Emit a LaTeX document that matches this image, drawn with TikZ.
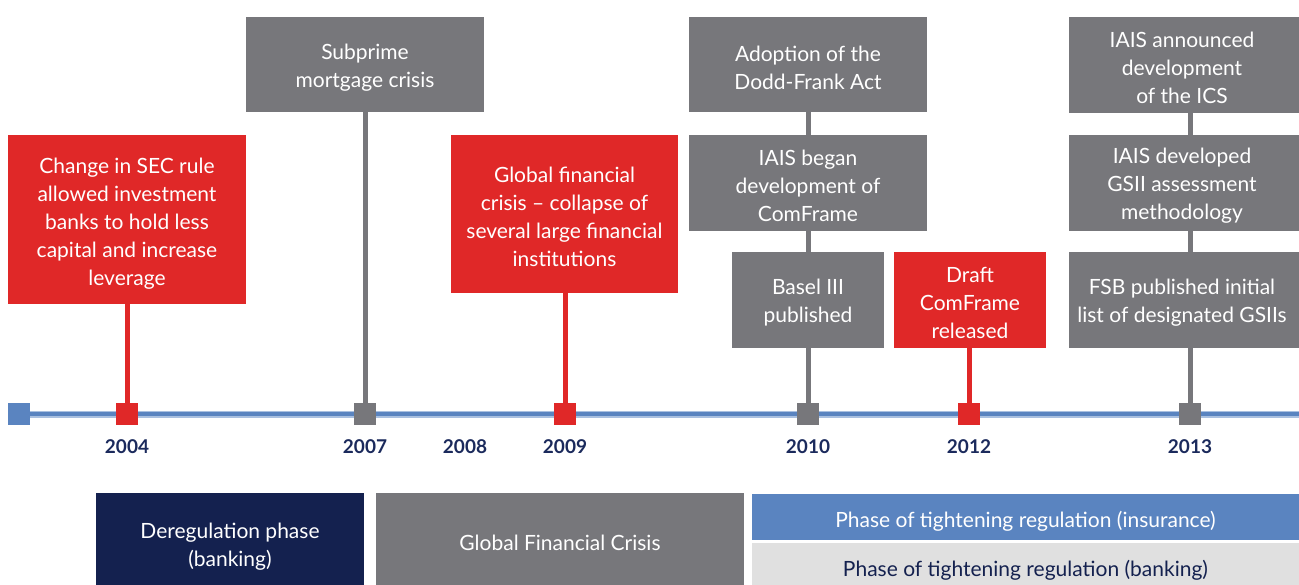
\documentclass[tikz,border=0pt]{standalone}
\usepackage{fontspec}
\setmainfont{Lato}
\definecolor{cred}{HTML}{E02828}
\definecolor{cgrey}{HTML}{77777B}
\definecolor{cnavy}{HTML}{14214F}
\definecolor{cblue}{HTML}{5A84C0}
\definecolor{clblue}{HTML}{A9C0E0}
\definecolor{clgrey}{HTML}{E0E0E0}
\definecolor{cyear}{HTML}{1B2A5C}
\begin{document}
\begin{tikzpicture}[x=1pt,y=-1pt,
  lbl/.style={inner sep=0pt, align=center, text=white,
    font=\fontsize{21}{28}\selectfont, yshift=-3pt},
  box/.style={inner sep=0pt},
  redbox/.style={box, fill=cred},
  greybox/.style={box, fill=cgrey},
  marker/.style={minimum size=22pt, inner sep=0pt},
  redmark/.style={marker, fill=cred},
  greymark/.style={marker, fill=cgrey},
  stem/.style={line width=5pt},
  year/.style={font=\fontsize{19}{22}\selectfont\bfseries, text=cyear},
  phase/.style={inner sep=0pt}
]
\useasboundingbox (0,0) rectangle (1299,585);

% timeline
\node[marker, fill=cblue] (start) at (19,414) {};
\coordinate (end) at (1299,414);
\draw[line width=7pt, clblue] (start.center) -- (end);
\draw[line width=4.5pt, cblue] (start.center) -- (end);
\node[marker, fill=cblue] at (19,414) {};

% markers
\node[redmark]  (m2004) at (127,414) {};
\node[greymark] (m2007) at (365,414) {};
\node[redmark]  (m2009) at (565,414) {};
\node[greymark] (m2010) at (808,414) {};
\node[redmark]  (m2012) at (969,414) {};
\node[greymark] (m2013) at (1190,414) {};

% years
\node[year] (y2004) at (127,447) {2004};
\node[year] (y2007) at (365,447) {2007};
\node[year] (y2008) at (465,447) {2008};
\node[year] (y2009) at (565,447) {2009};
\node[year] (y2010) at (808,447) {2010};
\node[year] (y2012) at (969,447) {2012};
\node[year] (y2013) at (1190,447) {2013};

% event boxes
\node[redbox, minimum width=238pt, minimum height=169pt,
  label={[lbl, yshift=-1.5pt]center:{Change in SEC rule\\allowed investment\\banks to hold less\\capital and increase\\leverage}}] (sec) at (127,219.5) {};
\node[greybox, minimum width=238pt, minimum height=95pt,
  label={[lbl]center:{Subprime\\mortgage crisis}}] (sub) at (365,64.5) {};
\node[redbox, minimum width=227pt, minimum height=158pt,
  label={[lbl]center:{Global financial\\crisis -- collapse of\\several large financial\\institutions}}] (gfc) at (564.5,214) {};
\node[greybox, minimum width=238pt, minimum height=95pt,
  label={[lbl]center:{Adoption of the\\Dodd-Frank Act}}] (dodd) at (808,64.5) {};
\node[greybox, minimum width=238pt, minimum height=96pt,
  label={[lbl]center:{IAIS began\\development of\\ComFrame}}] (began) at (808,183) {};
\node[greybox, minimum width=152pt, minimum height=96pt,
  label={[lbl]center:{Basel III\\published}}] (basel) at (808,300) {};
\node[redbox, minimum width=152pt, minimum height=96pt,
  label={[lbl]center:{Draft\\ComFrame\\released}}] (draft) at (970,300) {};
\node[greybox, minimum width=230pt, minimum height=96pt,
  label={[lbl, xshift=-2pt]center:{IAIS announced\\development\\of the ICS}}] (ics) at (1184,65) {};
\node[greybox, minimum width=230pt, minimum height=96pt,
  label={[lbl, xshift=-2pt]center:{IAIS developed\\GSII assessment\\methodology}}] (gsii) at (1184,183) {};
\node[greybox, minimum width=230pt, minimum height=96pt,
  label={[lbl, xshift=-2pt]center:{FSB published initial\\list of designated GSIIs}}] (fsb) at (1184,300) {};

% stems
\draw[stem, cred] (sec.south) -- (m2004.north);
\draw[stem, cgrey] (sub.south) -- (m2007.north);
\draw[stem, cred] (m2009 |- gfc.south) -- (m2009.north);
\draw[stem, cgrey] (dodd.south) -- (began.north);
\draw[stem, cgrey] (began.south) -- (basel.north);
\draw[stem, cgrey] (basel.south) -- (m2010.north);
\draw[stem, cred] (m2012 |- draft.south) -- (m2012.north);
\draw[stem, cgrey] (m2013 |- ics.south) -- (m2013 |- gsii.north);
\draw[stem, cgrey] (m2013 |- gsii.south) -- (m2013 |- fsb.north);
\draw[stem, cgrey] (m2013 |- fsb.south) -- (m2013.north);

% phases
\node[phase, fill=cnavy, minimum width=268pt, minimum height=92pt,
  label={[lbl, yshift=-5pt]center:{Deregulation phase\\(banking)}}] (dereg) at (230,539) {};
\node[phase, fill=cgrey, minimum width=368pt, minimum height=92pt,
  label={[lbl, yshift=-1pt]center:{Global Financial Crisis}}] (gfcp) at (560,539) {};
\node[phase, fill=cblue, minimum width=547pt, minimum height=46pt,
  label={[lbl, yshift=-1pt]center:{Phase of tightening regulation (insurance)}}] (ins) at (1025.5,517) {};
\node[phase, fill=clgrey, minimum width=547pt, minimum height=46pt,
  label={[lbl, yshift=-1pt, text=cnavy]center:{Phase of tightening regulation (banking)}}] (bank) at (1025.5,566) {};
\end{tikzpicture}
\end{document}
